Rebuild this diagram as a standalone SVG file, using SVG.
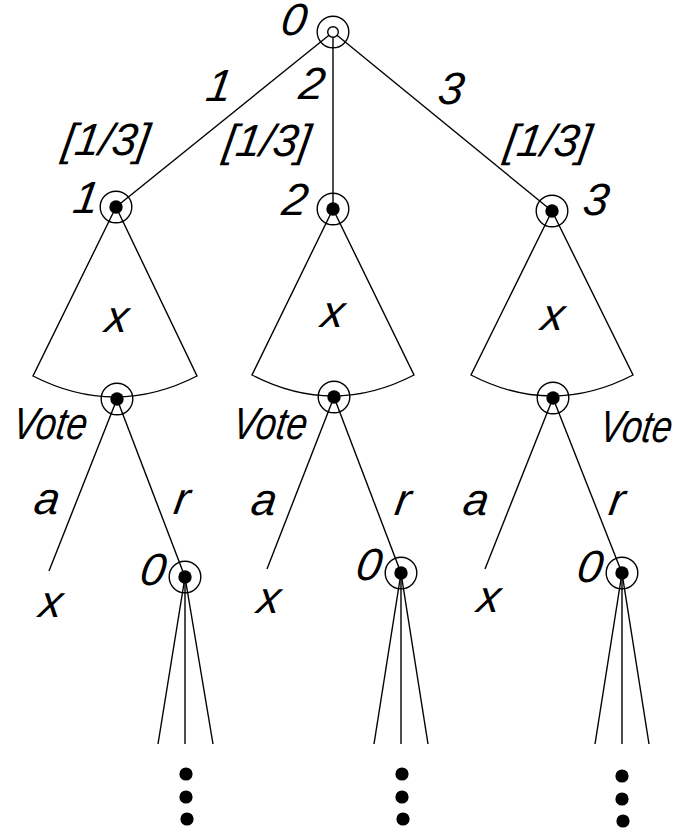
<svg xmlns="http://www.w3.org/2000/svg" width="676" height="832" viewBox="0 0 676 832">
<style>
.l{stroke:#000;stroke-width:1.4;fill:none}
.ring{stroke:#000;stroke-width:1.4;fill:none}
.dot{fill:#000}
.t{font-family:"Liberation Sans",Arial,sans-serif;font-style:italic;font-size:45px;fill:#000;text-anchor:middle}
</style>
<rect width="676" height="832" fill="#fff"/>
<g id="connectors">
<line class="l" x1="333" y1="32" x2="116" y2="207"/>
<line class="l" x1="333" y1="32" x2="333" y2="209"/>
<line class="l" x1="333" y1="32" x2="552" y2="211"/>
<path class="l" d="M116,207 L33,376 Q115,418 197,376 L116,207"/>
<path class="l" d="M333,209 L252,375 Q333,417 414,375 L333,209"/>
<path class="l" d="M552,211 L471,375 Q552,417 633,375 L552,211"/>
<line class="l" x1="117" y1="399" x2="49" y2="571"/>
<line class="l" x1="117" y1="399" x2="185" y2="577"/>
<line class="l" x1="334" y1="397" x2="267" y2="569"/>
<line class="l" x1="334" y1="397" x2="401" y2="573"/>
<line class="l" x1="553" y1="398" x2="485" y2="569"/>
<line class="l" x1="553" y1="398" x2="622" y2="573"/>
<line class="l" x1="185" y1="577" x2="158" y2="744"/>
<line class="l" x1="185" y1="577" x2="185" y2="744"/>
<line class="l" x1="185" y1="577" x2="213" y2="744"/>
<line class="l" x1="401" y1="573" x2="374" y2="744"/>
<line class="l" x1="401" y1="573" x2="401" y2="744"/>
<line class="l" x1="401" y1="573" x2="428" y2="744"/>
<line class="l" x1="622" y1="573" x2="595" y2="744"/>
<line class="l" x1="622" y1="573" x2="622" y2="744"/>
<line class="l" x1="622" y1="573" x2="649" y2="744"/>
</g>
<g id="root">
<circle class="ring" cx="333" cy="32" r="15.8"/>
<circle cx="333" cy="32" r="5.3" fill="#fff" stroke="#000" stroke-width="1.4"/>
<text class="t" transform="translate(292,35) skewX(-9)">0</text>
</g>
<g id="n1"><circle class="ring" cx="116" cy="207" r="15.8"/><circle class="dot" cx="116" cy="207" r="6.7"/><text class="t" transform="translate(84,213) skewX(-9)">1</text></g>
<g id="n2"><circle class="ring" cx="333" cy="209" r="15.8"/><circle class="dot" cx="333" cy="209" r="6.7"/><text class="t" transform="translate(293,215) skewX(-9)">2</text></g>
<g id="n3"><circle class="ring" cx="552" cy="211" r="15.8"/><circle class="dot" cx="552" cy="211" r="6.7"/><text class="t" transform="translate(594,215) skewX(-9)">3</text></g>
<g id="edge-labels">
<text class="t" transform="translate(217,101) skewX(-9)">1</text>
<text class="t" transform="translate(310,99) skewX(-9)">2</text>
<text class="t" transform="translate(449,104) skewX(-9)">3</text>
<text class="t" transform="translate(104,155) skewX(-9)" textLength="86" lengthAdjust="spacingAndGlyphs">[1/3]</text>
<text class="t" transform="translate(265,156) skewX(-9)" textLength="86" lengthAdjust="spacingAndGlyphs">[1/3]</text>
<text class="t" transform="translate(546,156) skewX(-9)" textLength="86" lengthAdjust="spacingAndGlyphs">[1/3]</text>
</g>
<g id="cone-labels">
<text class="t" transform="translate(115,332) skewX(-9)">x</text>
<text class="t" transform="translate(331,327) skewX(-9)">x</text>
<text class="t" transform="translate(551,330) skewX(-9)">x</text>
</g>
<g id="v1"><circle class="ring" cx="117" cy="399" r="15.8"/><circle class="dot" cx="117" cy="399" r="6.7"/><text class="t" transform="translate(48,439) skewX(-9)" textLength="74" lengthAdjust="spacingAndGlyphs">Vote</text></g>
<g id="v2"><circle class="ring" cx="334" cy="397" r="15.8"/><circle class="dot" cx="334" cy="397" r="6.7"/><text class="t" transform="translate(268,439) skewX(-9)" textLength="74" lengthAdjust="spacingAndGlyphs">Vote</text></g>
<g id="v3"><circle class="ring" cx="553" cy="398" r="15.8"/><circle class="dot" cx="553" cy="398" r="6.7"/><text class="t" transform="translate(634,442) skewX(-9)" textLength="72" lengthAdjust="spacingAndGlyphs">Vote</text></g>
<g id="vote-labels">
<text class="t" transform="translate(45,514) skewX(-9)">a</text>
<text class="t" transform="translate(262,515) skewX(-9)">a</text>
<text class="t" transform="translate(474,515) skewX(-9)">a</text>
<text class="t" transform="translate(180,514) skewX(-9)">r</text>
<text class="t" transform="translate(401,515) skewX(-9)">r</text>
<text class="t" transform="translate(615,515) skewX(-9)">r</text>
</g>
<g id="x1"><text class="t" transform="translate(49,617) skewX(-9)">x</text></g>
<g id="x2"><text class="t" transform="translate(267,613) skewX(-9)">x</text></g>
<g id="x3"><text class="t" transform="translate(487,612) skewX(-9)">x</text></g>
<g id="c1"><circle class="ring" cx="185" cy="577" r="15.8"/><circle class="dot" cx="185" cy="577" r="6.7"/><text class="t" transform="translate(151,585) skewX(-9)">0</text></g>
<g id="c2"><circle class="ring" cx="401" cy="573" r="15.8"/><circle class="dot" cx="401" cy="573" r="6.7"/><text class="t" transform="translate(367,580) skewX(-9)">0</text></g>
<g id="c3"><circle class="ring" cx="622" cy="573" r="15.8"/><circle class="dot" cx="622" cy="573" r="6.7"/><text class="t" transform="translate(588,582) skewX(-9)">0</text></g>
<g id="dots1"><circle class="dot" cx="186" cy="774" r="6.6"/><circle class="dot" cx="186" cy="797" r="6.6"/><circle class="dot" cx="187" cy="819" r="6.6"/></g>
<g id="dots2"><circle class="dot" cx="402" cy="774" r="6.6"/><circle class="dot" cx="402" cy="797" r="6.6"/><circle class="dot" cx="403" cy="819" r="6.6"/></g>
<g id="dots3"><circle class="dot" cx="622" cy="776" r="6.6"/><circle class="dot" cx="622" cy="799" r="6.6"/><circle class="dot" cx="623" cy="821" r="6.6"/></g>
</svg>
